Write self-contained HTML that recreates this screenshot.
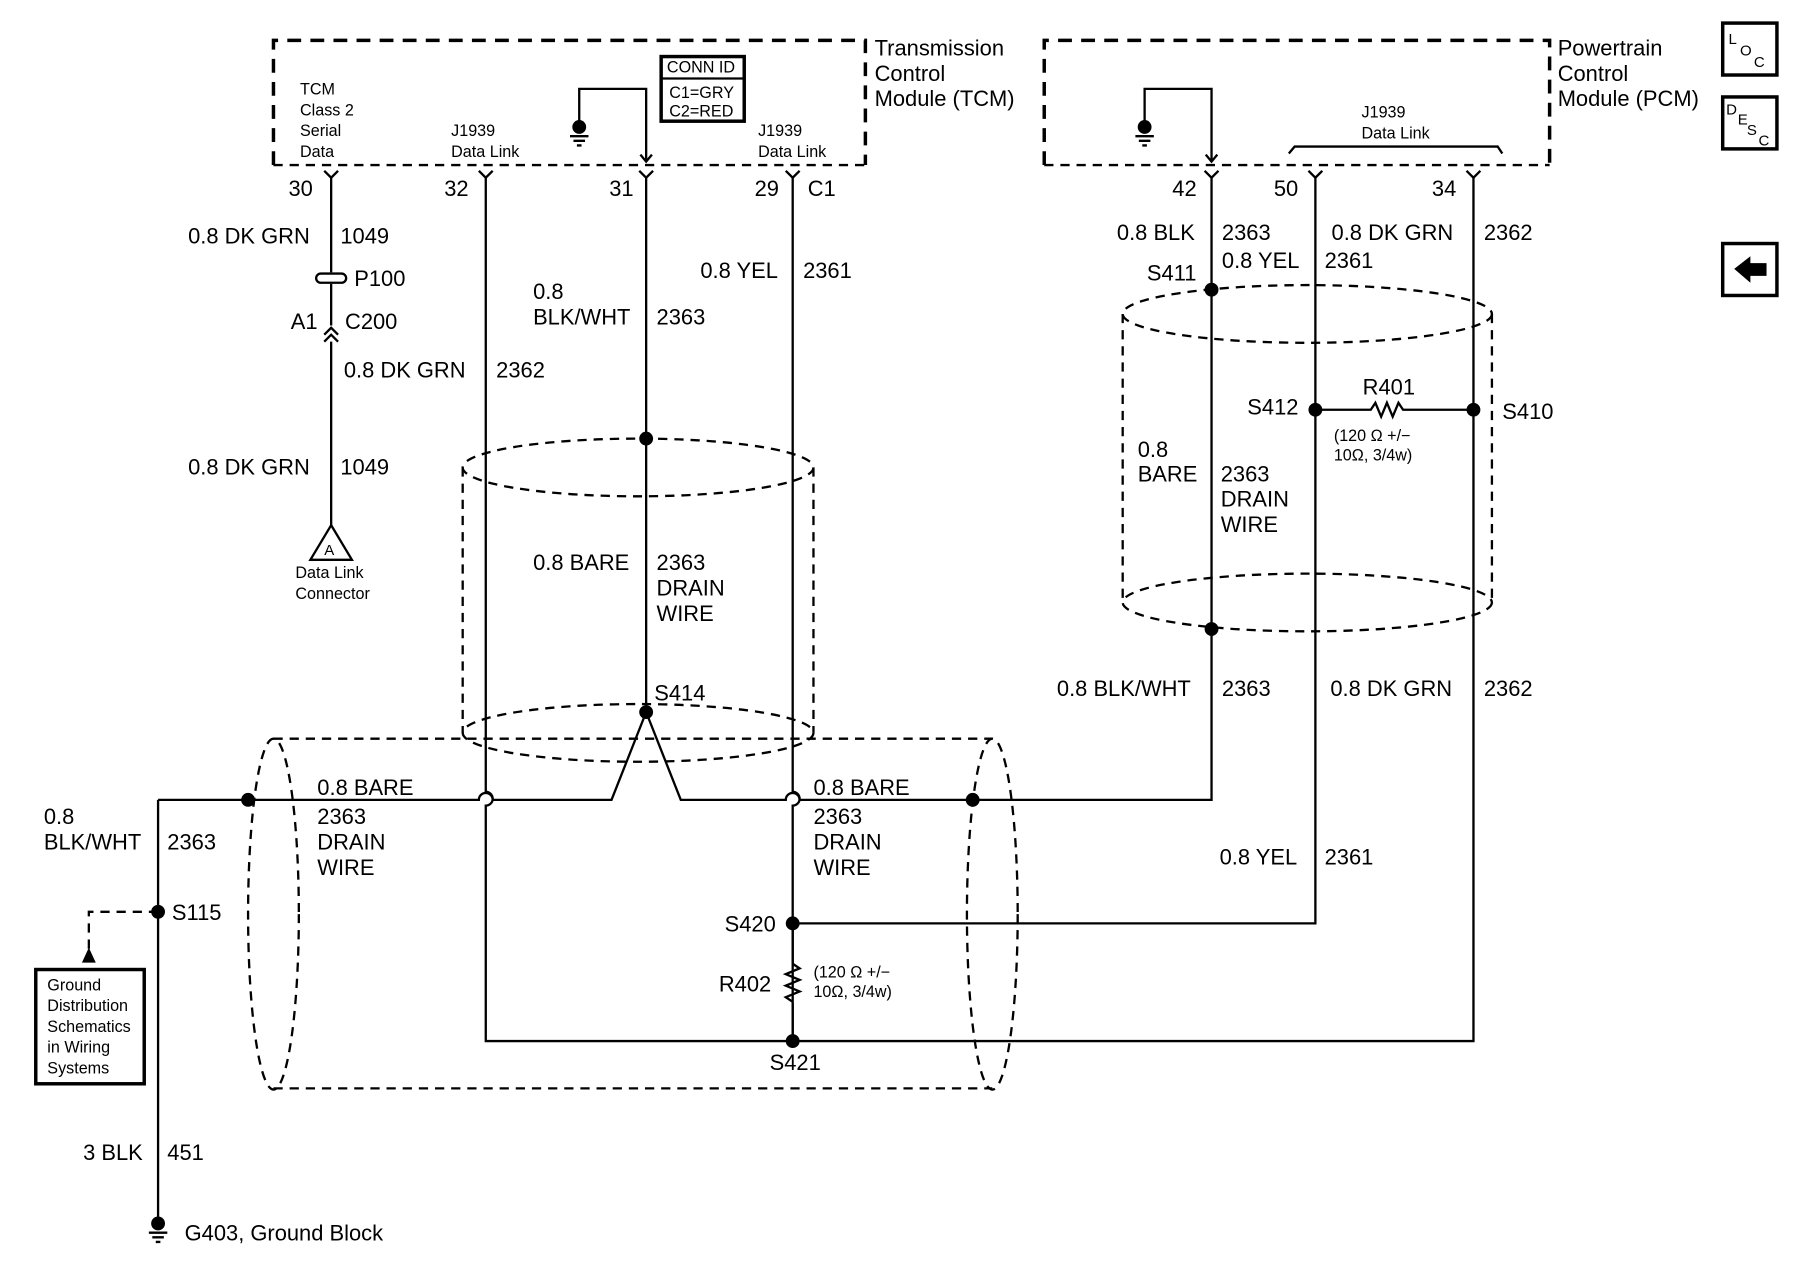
<!DOCTYPE html>
<html><head><meta charset="utf-8"><style>
html,body{margin:0;padding:0;background:#fff;}
svg{display:block;}
text{font-family:"Liberation Sans",Arial,sans-serif;fill:#000;}
.l{font-size:19px;}
.s{font-size:14px;}
.w{stroke:#000;stroke-width:2;fill:none;}
.d{stroke:#000;stroke-width:2;fill:none;stroke-dasharray:8,6;}
.bd{stroke:#000;stroke-width:3;fill:none;stroke-dasharray:12,8;}
</style></head><body>
<svg width="1800" height="1280" viewBox="0 0 1560 1109" preserveAspectRatio="none" xmlns="http://www.w3.org/2000/svg">
<!-- module boxes -->
<path class="bd" d="M237,143 L237,35 L750,35 L750,143"/>
<path class="d" d="M237,143 L750,143"/>
<path class="bd" d="M905,143 L905,35 L1343,35 L1343,143"/>
<path class="d" d="M905,143 L1343,143"/>
<text class="l" x="758" y="48">Transmission</text>
<text class="l" x="758" y="70">Control</text>
<text class="l" x="758" y="92">Module (TCM)</text>
<text class="l" x="1350" y="48">Powertrain</text>
<text class="l" x="1350" y="70">Control</text>
<text class="l" x="1350" y="92">Module (PCM)</text>
<text class="s" x="260" y="82">TCM</text>
<text class="s" x="260" y="100">Class 2</text>
<text class="s" x="260" y="118">Serial</text>
<text class="s" x="260" y="136">Data</text>
<text class="s" x="391" y="118">J1939</text>
<text class="s" x="391" y="136">Data Link</text>
<text class="s" x="657" y="118">J1939</text>
<text class="s" x="657" y="136">Data Link</text>
<text class="s" x="1180" y="102">J1939</text>
<text class="s" x="1180" y="120">Data Link</text>
<path class="w" d="M1117,133 L1122,127 L1298,127 L1302,133"/>
<!-- conn id -->
<rect x="573" y="49" width="72" height="56" fill="#fff" stroke="#000" stroke-width="3"/>
<line x1="573" y1="68" x2="645" y2="68" stroke="#000" stroke-width="2"/>
<text class="s" x="578" y="63">CONN ID</text>
<text class="s" x="580" y="85">C1=GRY</text>
<text class="s" x="580" y="101">C2=RED</text>
<!-- internal grounds -->
<path class="w" d="M502,110 L502,77 L560,77 L560,140 M555,134 L560,140 L565,134"/>
<circle cx="502" cy="110" r="6"/>
<path class="w" d="M494,118 H510 M497,122 H507 M500,126 H504"/>
<path class="w" d="M992,110 L992,77 L1050,77 L1050,140 M1045,134 L1050,140 L1055,134"/>
<circle cx="992" cy="110" r="6"/>
<path class="w" d="M984,118 H1000 M987,122 H997 M990,126 H994"/>
<!-- pin symbols -->
<g class="w">
<path d="M281,148 L287,154 L293,148 M415,148 L421,154 L427,148 M554,148 L560,154 L566,148 M681,148 L687,154 L693,148 M1044,148 L1050,154 L1056,148 M1134,148 L1140,154 L1146,148 M1271,148 L1277,154 L1283,148"/>
</g>
<text class="l" x="250" y="170">30</text>
<text class="l" x="385" y="170">32</text>
<text class="l" x="528" y="170">31</text>
<text class="l" x="654" y="170">29</text>
<text class="l" x="700" y="170">C1</text>
<text class="l" x="1016" y="170">42</text>
<text class="l" x="1104" y="170">50</text>
<text class="l" x="1241" y="170">34</text>
<!-- wires -->
<g class="w">
<path d="M287,154 V236 M287,246 V282 M287,296 V455"/>
<path d="M281,290 L287,284 L293,290 M281,296 L287,290 L293,296"/>
<rect x="274" y="237" width="26" height="8" rx="4" fill="#fff"/>
<path d="M421,154 V686 A6,6 0 0 1 421,698 V902 H1277 V154"/>
<path d="M560,154 V617"/>
<path d="M687,154 V686 A6,6 0 0 1 687,698 V902"/>
<path d="M687,800 H1140 V154"/>
<path d="M1050,154 V693 H843"/>
<path d="M1140,355 H1188 l4,-6 l5,12 l5,-12 l5,12 l5,-12 l4,6 H1277"/>
<path d="M137,693 H415 A6,6 0 0 1 427,693 H530 L560,617 L590,693 H681 A6,6 0 0 1 693,693 H843"/>
<path d="M137,693 V1060"/>
<path d="M687,835 l6,4 l-12,5 l12,5 l-12,5 l12,5 l-12,5 l6,4"/>
</g>
<path d="M687,800 V835 M687,869 V902" class="w"/>
<!-- triangle A -->
<path d="M287,455 L269,485 L305,485 Z" fill="#fff" stroke="#000" stroke-width="2"/>
<text x="281" y="481" style="font-size:13px">A</text>
<text class="s" x="256" y="501">Data Link</text>
<text class="s" x="256" y="519">Connector</text>
<!-- dots -->
<g>
<circle cx="560" cy="380" r="6"/><circle cx="560" cy="617" r="6"/>
<circle cx="687" cy="800" r="6"/><circle cx="687" cy="902" r="6"/>
<circle cx="215" cy="693" r="6"/><circle cx="843" cy="693" r="6"/>
<circle cx="1050" cy="251" r="6"/><circle cx="1050" cy="545" r="6"/>
<circle cx="1140" cy="355" r="6"/><circle cx="1277" cy="355" r="6"/>
<circle cx="137" cy="790" r="6"/>
<circle cx="137" cy="1060" r="6"/>
</g>
<path class="w" d="M129,1068 H145 M132,1072 H142 M135,1076 H139"/>
<!-- shields -->
<g class="d">
<ellipse cx="553" cy="405" rx="152" ry="25"/>
<ellipse cx="553" cy="635" rx="152" ry="25"/>
<path d="M401,405 V635 M705,405 V635"/>
<ellipse cx="1133" cy="272" rx="160" ry="25"/>
<ellipse cx="1133" cy="522" rx="160" ry="25"/>
<path d="M973,272 V522 M1293,272 V522"/>
<ellipse cx="237" cy="792" rx="22" ry="152"/>
<ellipse cx="860" cy="792" rx="22" ry="152"/>
<path d="M237,640 H860 M237,943 H860"/>
<path d="M137,790 H77 V822"/>
</g>
<path d="M71,834 L77,821 L83,834 Z"/>
<rect x="31" y="840" width="94" height="99" fill="#fff" stroke="#000" stroke-width="3"/>
<text class="s" x="41" y="858">Ground</text>
<text class="s" x="41" y="876">Distribution</text>
<text class="s" x="41" y="894">Schematics</text>
<text class="s" x="41" y="912">in Wiring</text>
<text class="s" x="41" y="930">Systems</text>
<!-- labels -->
<g class="l">
<text x="163" y="211">0.8 DK GRN</text><text x="295" y="211">1049</text>
<text x="307" y="248">P100</text>
<text x="252" y="285">A1</text><text x="299" y="285">C200</text>
<text x="298" y="327">0.8 DK GRN</text><text x="430" y="327">2362</text>
<text x="163" y="411">0.8 DK GRN</text><text x="295" y="411">1049</text>
<text x="462" y="259">0.8</text><text x="462" y="281">BLK/WHT</text><text x="569" y="281">2363</text>
<text x="607" y="241">0.8 YEL</text><text x="696" y="241">2361</text>
<text x="462" y="494">0.8 BARE</text><text x="569" y="494">2363</text>
<text x="569" y="516">DRAIN</text><text x="569" y="538">WIRE</text>
<text x="567" y="607">S414</text>
<text x="275" y="689">0.8 BARE</text>
<text x="275" y="714">2363</text><text x="275" y="736">DRAIN</text><text x="275" y="758">WIRE</text>
<text x="705" y="689">0.8 BARE</text>
<text x="705" y="714">2363</text><text x="705" y="736">DRAIN</text><text x="705" y="758">WIRE</text>
<text x="38" y="714">0.8</text><text x="38" y="736">BLK/WHT</text><text x="145" y="736">2363</text>
<text x="149" y="797">S115</text>
<text x="628" y="807">S420</text>
<text x="623" y="859">R402</text>
<text x="667" y="927">S421</text>
<text x="72" y="1005">3 BLK</text><text x="145" y="1005">451</text>
<text x="160" y="1075">G403, Ground Block</text>
<text x="968" y="208">0.8 BLK</text><text x="1059" y="208">2363</text>
<text x="1059" y="232">0.8 YEL</text><text x="1148" y="232">2361</text>
<text x="1154" y="208">0.8 DK GRN</text><text x="1286" y="208">2362</text>
<text x="994" y="243">S411</text>
<text x="1081" y="359">S412</text>
<text x="1302" y="363">S410</text>
<text x="1181" y="342">R401</text>
<text x="986" y="396">0.8</text><text x="986" y="417">BARE</text>
<text x="1058" y="417">2363</text><text x="1058" y="439">DRAIN</text><text x="1058" y="461">WIRE</text>
<text x="916" y="603">0.8 BLK/WHT</text><text x="1059" y="603">2363</text>
<text x="1153" y="603">0.8 DK GRN</text><text x="1286" y="603">2362</text>
<text x="1057" y="749">0.8 YEL</text><text x="1148" y="749">2361</text>
</g>
<text class="s" x="1156" y="382">(120 Ω +/−</text>
<text class="s" x="1156" y="399">10Ω, 3/4w)</text>
<text class="s" x="705" y="847">(120 Ω +/−</text>
<text class="s" x="705" y="864">10Ω, 3/4w)</text>
<!-- side icons -->
<rect x="1493" y="20" width="47" height="45" fill="#fff" stroke="#000" stroke-width="3"/>
<text x="1498" y="38" style="font-size:13px">L</text><text x="1508" y="48" style="font-size:13px">O</text><text x="1520" y="58" style="font-size:13px">C</text>
<rect x="1493" y="84" width="47" height="45" fill="#fff" stroke="#000" stroke-width="3"/>
<text x="1496" y="99" style="font-size:13px">D</text><text x="1506" y="108" style="font-size:13px">E</text><text x="1514" y="117" style="font-size:13px">S</text><text x="1524" y="126" style="font-size:13px">C</text>
<rect x="1493" y="211" width="47" height="45" fill="#fff" stroke="#000" stroke-width="3"/>
<path d="M1503,233 L1517,222 L1517,228 L1531,228 L1531,239 L1517,239 L1517,245 Z"/>
</svg>
</body></html>
